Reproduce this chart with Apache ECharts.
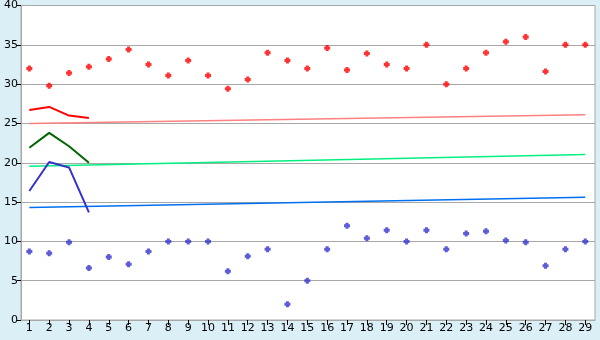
<!DOCTYPE html>
<html><head><meta charset="utf-8">
<script src="https://cdn.jsdelivr.net/npm/echarts@6/dist/echarts.min.js"></script>
<style>html,body{margin:0;padding:0;background:#daeff6;}#c{width:600px;height:340px;}</style>
</head><body><div id="c"></div>
<script>
var categories = [1,2,3,4,5,6,7,8,9,10,11,12,13,14,15,16,17,18,19,20,21,22,23,24,25,26,27,28,29];
var redPoints = [32.0,29.8,31.4,32.2,33.2,34.4,32.5,31.1,33.0,31.1,29.4,30.6,34.0,33.0,32.0,34.6,31.8,33.9,32.5,32.0,35.0,30.0,32.0,34.0,35.4,36.0,31.6,35.0,35.0];
var bluePoints = [8.7,8.5,9.9,6.6,8.0,7.1,8.7,10.0,10.0,10.0,6.2,8.1,9.0,2.0,5.0,9.0,12.0,10.4,11.4,10.0,11.4,9.0,11.0,11.3,10.1,9.9,6.9,9.0,10.0];
var shortCats = [1,2,3,4];
var redLine = [26.7,27.1,26.0,25.7];
var greenLine = [21.9,23.8,22.1,20.0];
var blueLine = [16.4,20.1,19.4,13.7];
var trendCats = [1,29];
var pinkTrend = [25.0,26.1];
var greenTrend = [19.55,21.05];
var blueTrend = [14.3,15.6];
var yTicks = [0,5,10,15,20,25,30,35,40];

function pairs(xs, ys){ return xs.map(function(x,i){ return [x, ys[i]]; }); }
var plus = 'path://M1.25,0H3.75V1.25H5V3.75H3.75V5H1.25V3.75H0V1.25H1.25Z';
var font = 'DejaVu Sans';
var chart = echarts.init(document.getElementById('c'), null, {renderer:'canvas'});
chart.setOption({
  animation:false,
  backgroundColor:'#daeff6',
  grid:{left:21,right:5,top:5,bottom:20,show:true,backgroundColor:'#ffffff',borderColor:'#a8a8a8',borderWidth:1},
  xAxis:{type:'value',min:0.58,max:29.49,
    axisLine:{show:true,onZero:false,lineStyle:{color:'#a8a8a8',width:1}},
    axisTick:{show:true,customValues:categories,length:5,inside:false,lineStyle:{color:'#000'}},
    axisLabel:{customValues:categories,fontFamily:font,fontSize:11,color:'#000',margin:3},
    splitLine:{show:false}},
  yAxis:{type:'value',min:0,max:40,interval:5,
    axisLine:{show:true,lineStyle:{color:'#a8a8a8',width:1}},
    axisTick:{show:true,length:4,lineStyle:{color:'#000'}},
    axisLabel:{fontFamily:font,fontSize:11,color:'#000',margin:3},
    splitLine:{show:true,lineStyle:{color:'#a8a8a8',width:1}}},
  series:[
    {type:'line',data:pairs(trendCats,pinkTrend),symbol:'none',lineStyle:{color:'#ff8080',width:1.5},z:2},
    {type:'line',data:pairs(trendCats,greenTrend),symbol:'none',lineStyle:{color:'#00f080',width:1.5},z:2},
    {type:'line',data:pairs(trendCats,blueTrend),symbol:'none',lineStyle:{color:'#0070f0',width:1.5},z:2},
    {type:'line',data:pairs(shortCats,redLine),symbol:'none',lineStyle:{color:'#ff0000',width:2},z:3},
    {type:'line',data:pairs(shortCats,greenLine),symbol:'none',lineStyle:{color:'#006600',width:2},z:3},
    {type:'line',data:pairs(shortCats,blueLine),symbol:'none',lineStyle:{color:'#3333cc',width:2},z:3},
    {type:'scatter',data:pairs(categories,redPoints),symbol:plus,symbolSize:6,itemStyle:{color:'#ff0000'},z:4},
    {type:'scatter',data:pairs(categories,bluePoints),symbol:plus,symbolSize:6,itemStyle:{color:'#3333cc'},z:4}
  ]
});
</script></body></html>
